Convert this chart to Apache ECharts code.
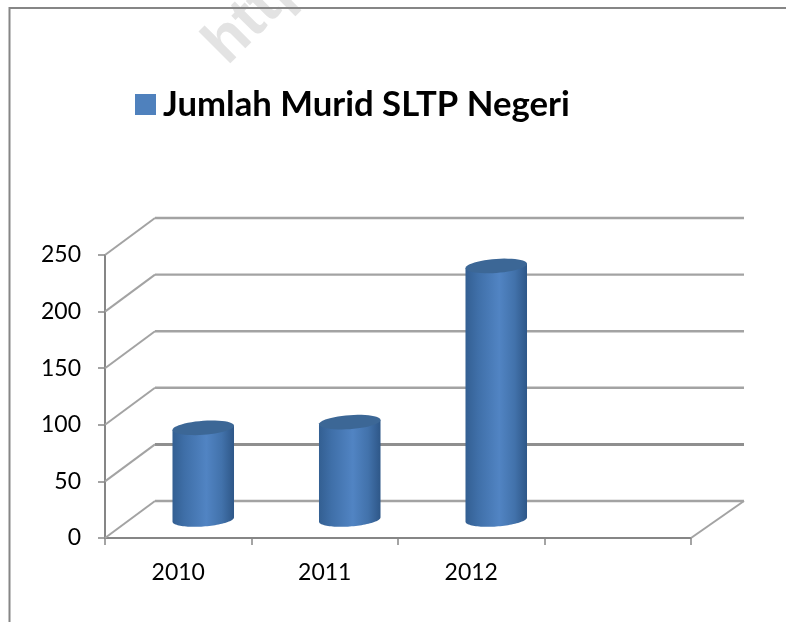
<!DOCTYPE html>
<html>
<head>
<meta charset="utf-8">
<style>html,body{margin:0;padding:0;background:#fff}#c{width:786px;height:622px}</style>
<script src="https://cdn.jsdelivr.net/npm/echarts@6/dist/echarts.min.js"></script>
</head>
<body>
<div id="c"></div>
<script>
var seriesName = 'Jumlah Murid SLTP Negeri';
var categories = ['2010', '2011', '2012', ''];
var values = [81, 86, 224, null];
var yTicks = [0, 50, 100, 150, 200, 250];

var DEPTH_X = 50, DEPTH_Y = -37, AXIS = '#868686', WALL = '#a3a3a3';

function ellipsePts(cx, cy, rx, ry, shear, from, to) {
  var pts = [], n = 48;
  for (var i = 0; i <= n; i++) {
    var t = from + (to - from) * i / n;
    pts.push([cx + rx * Math.cos(t), cy + ry * Math.sin(t) - shear * rx * Math.cos(t)]);
  }
  return pts;
}

function renderWall(params, api) {
  var v = api.value(1), cs = params.coordSys;
  var y = api.coord([0, v])[1];
  var x0 = cs.x, x1 = cs.x + cs.width;
  var heavy = v === 50;
  var children = [
    { type: 'polyline', shape: { points: [[x0, y], [x0 + DEPTH_X, y + DEPTH_Y]] }, style: { stroke: WALL, lineWidth: 2, fill: null } },
    { type: 'polyline', shape: { points: [[x0 + DEPTH_X, y + DEPTH_Y], [x1 + DEPTH_X + 3, y + DEPTH_Y]] },
      style: { stroke: heavy ? '#8f8f8f' : WALL, lineWidth: heavy ? 3 : 2.4, fill: null } }
  ];
  if (v === 0) {
    children.push({ type: 'polyline', shape: { points: [[x1 + DEPTH_X + 3, y + DEPTH_Y], [x1, y]] },
      style: { stroke: WALL, lineWidth: 2, fill: null } });
  }
  return { type: 'group', silent: true, children: children };
}

function renderBar(params, api) {
  var idx = api.value(0), v = api.value(1);
  if (v == null || isNaN(v)) return null;
  var base = api.coord([idx, 0]), top = api.coord([idx, v]);
  var cx = base[0] + DEPTH_X / 2, by = base[1] + DEPTH_Y / 2, ty = top[1] + DEPTH_Y / 2;
  var rx = api.size([1, 0])[0] * 0.21, ry = 7, sh = 0.07;
  var body = [[cx - rx, ty + sh * rx], [cx + rx, ty - sh * rx]]
    .concat(ellipsePts(cx, by, rx, ry, sh, 0, Math.PI));
  var grad = new echarts.graphic.LinearGradient(0, 0, 1, 0, [
    { offset: 0, color: '#335f92' },
    { offset: 0.2, color: '#3f6fa8' },
    { offset: 0.55, color: '#5184c3' },
    { offset: 0.8, color: '#4272ab' },
    { offset: 1, color: '#2e5788' }
  ]);
  return {
    type: 'group',
    children: [
      { type: 'polygon', shape: { points: body }, style: { fill: grad } },
      { type: 'polygon', shape: { points: ellipsePts(cx, ty, rx, ry, sh, 0, Math.PI * 2) }, style: { fill: '#3c6796' } }
    ]
  };
}

var chart = echarts.init(document.getElementById('c'), null, { renderer: 'canvas' });
chart.setOption({
  animation: false,
  backgroundColor: '#fff',
  textStyle: { fontFamily: 'Lato' },
  grid: { left: 105, top: 255, width: 586, height: 283 },
  legend: {
    left: 135, top: 87, padding: 0,
    itemWidth: 21, itemHeight: 21,
    data: [{ name: seriesName, icon: 'rect' }],
    selectedMode: false,
    textStyle: { fontFamily: 'Lato', fontWeight: 'bold', fontSize: 34.7, color: '#000', padding: [0, 0, 0, 2] }
  },
  xAxis: {
    type: 'category', data: categories,
    axisLine: { lineStyle: { color: AXIS, width: 2 } },
    axisTick: { show: true, length: 7, lineStyle: { color: AXIS, width: 1.5 } },
    axisLabel: { margin: 23, fontSize: 23, color: '#000', fontFamily: 'Lato', interval: 0 },
    splitLine: { show: false }
  },
  yAxis: {
    type: 'value', min: 0, max: 250, interval: 50,
    axisLine: { show: true, lineStyle: { color: AXIS, width: 2 } },
    axisTick: { show: true, length: 7, lineStyle: { color: AXIS, width: 1.5 } },
    axisLabel: { margin: 24, fontSize: 23, color: '#000', fontFamily: 'Lato', padding: [3, 0, 0, 0] },
    splitLine: { show: false }
  },
  graphic: [
    { type: 'text', z: 0, x: 237, y: 76, rotation: Math.PI / 4, silent: true,
      style: { text: 'http', fontFamily: 'Liberation Sans', fontWeight: 'bold', fontSize: 62, fill: '#e3e3e3', verticalAlign: 'bottom', align: 'left' } },
    { type: 'polyline', z: 1, silent: true, shape: { points: [[786, 8], [9.5, 8], [9.5, 622]] },
      style: { stroke: AXIS, lineWidth: 2, fill: null } }
  ],
  series: [
    { type: 'custom', name: 'wall', silent: true, z: 1, renderItem: renderWall,
      data: yTicks.map(function (t) { return [0, t]; }), encode: { x: 0, y: 1 } },
    { type: 'custom', name: seriesName, z: 2, renderItem: renderBar,
      itemStyle: { color: '#4f81bd' },
      data: values.map(function (v, i) { return [i, v]; }), encode: { x: 0, y: 1 } }
  ]
});
</script>
</body>
</html>
